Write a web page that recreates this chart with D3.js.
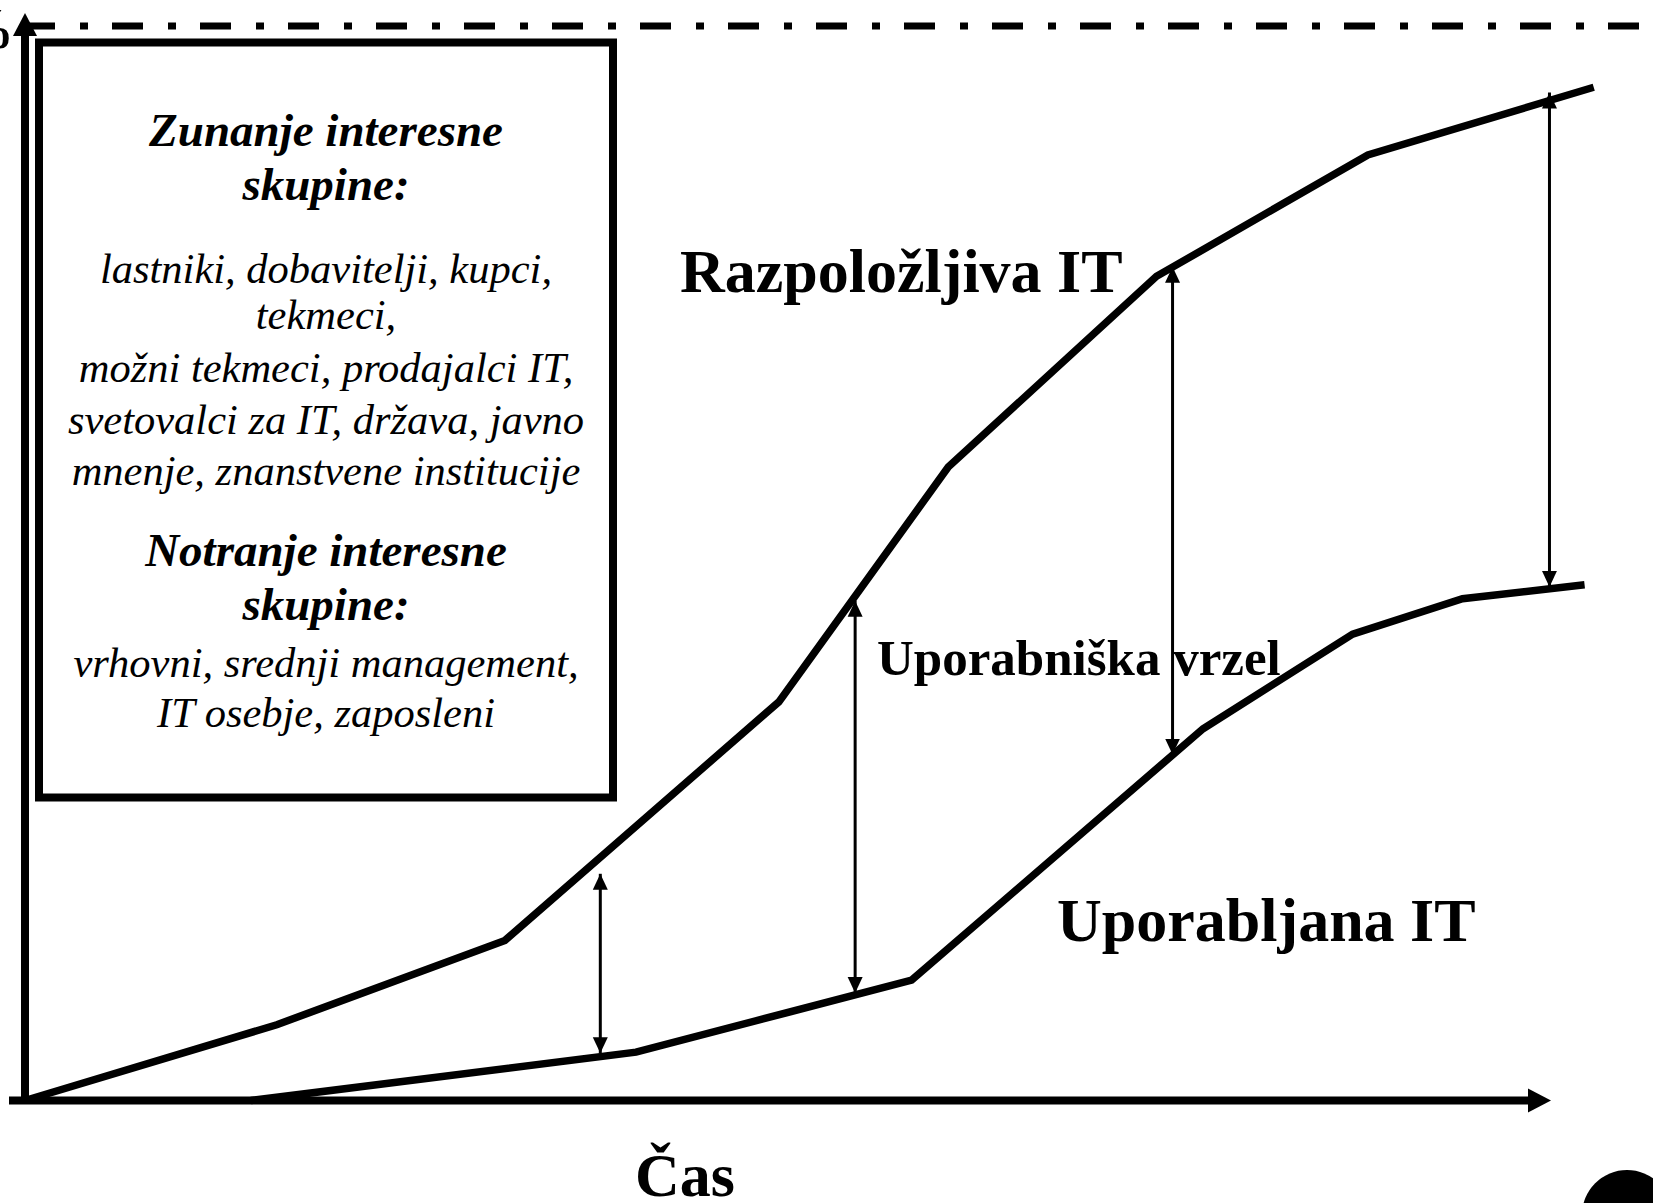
<!DOCTYPE html>
<html><head><meta charset="utf-8">
<script src="https://cdn.jsdelivr.net/npm/d3@7"></script>
<style>body{margin:0;background:#fff}svg{display:block}</style>
</head><body>
<script>
// ---- data (time units 0..100, percent 0..100) ----
const availableTime  = [0, 16.5, 31.45, 49.4, 60.5, 74.15, 88.0, 102.8];
const availableLevel = [0, 7.05, 14.9, 37.1, 58.95, 76.7, 88.0, 94.3];
const usedTime  = [14.8, 40.04, 58.1, 77.2, 87.0, 94.2, 102.2];
const usedLevel = [0, 4.5, 11.2, 34.6, 43.4, 46.7, 48.0];
const gapTime = [37.7, 54.4, 75.2, 99.9];
const gapLow  = [4.4, 10.0, 32.2, 47.8];
const gapHigh = [21.1, 46.5, 77.6, 93.8];
const maxLevel = 100;
const boxLines = [
  "Zunanje interesne", "skupine:",
  "lastniki, dobavitelji, kupci,", "tekmeci,", "možni tekmeci, prodajalci IT,",
  "svetovalci za IT, država, javno", "mnenje, znanstvene institucije",
  "Notranje interesne", "skupine:",
  "vrhovni, srednji management,", "IT osebje, zaposleni"
];
const boxLineKind = ["h","h","t","t","t","t","t","h","h","t","t"];
const labelAvailable = "Razpoložljiva IT";
const labelUsed = "Uporabljana IT";
const labelGap = "Uporabniška vrzel";
const labelX = "Čas";
const labelY = "%";

// ---- layout ----
const W = 1653, H = 1203;
const svg = d3.select("body").append("svg").attr("width", W).attr("height", H);
const x = d3.scaleLinear().domain([0, 100]).range([25, 1551]);
const y = d3.scaleLinear().domain([0, 100]).range([1100.5, 26]);
const serif = "'Liberation Serif','Times New Roman',serif";

// dash-dot 100% line
svg.append("line")
  .attr("x1", 24).attr("x2", W).attr("y1", y(maxLevel)).attr("y2", y(maxLevel))
  .attr("stroke", "#000").attr("stroke-width", 7)
  .attr("stroke-dasharray", "31,25,8,24");

// text box
svg.append("rect").attr("x", 39).attr("y", 42.5).attr("width", 574).attr("height", 755)
  .attr("fill", "#fff").attr("stroke", "#000").attr("stroke-width", 8);

const boxY = [145.5, 200, 282.5, 329, 381.6, 434, 485, 566, 620, 677, 727];
svg.append("g").selectAll("text").data(boxLines).join("text")
  .attr("x", 326).attr("y", (d, i) => boxY[i])
  .attr("text-anchor", "middle")
  .attr("font-family", serif)
  .attr("font-style", "italic")
  .attr("font-weight", (d, i) => boxLineKind[i] === "h" ? "bold" : "normal")
  .attr("font-size", (d, i) => boxLineKind[i] === "h" ? 47 : 42.5)
  .text(d => d);

// axes
svg.append("line").attr("x1", x(0)).attr("x2", x(0)).attr("y1", y(0) + 3.5).attr("y2", 34)
  .attr("stroke", "#000").attr("stroke-width", 8);
svg.append("path").attr("d", `M${x(0)},13 L${x(0) - 12},36 L${x(0) + 12},36 Z`).attr("fill", "#000");
svg.append("line").attr("x1", 9).attr("x2", 1530).attr("y1", y(0)).attr("y2", y(0))
  .attr("stroke", "#000").attr("stroke-width", 8);
svg.append("path").attr("d", `M${x(100)},${y(0)} L1528,${y(0) - 12} L1528,${y(0) + 12} Z`).attr("fill", "#000");

// curves
const line = d3.line().x(d => x(d[0])).y(d => y(d[1]));
const availablePts = availableTime.map((t, i) => [t, availableLevel[i]]);
const usedPts = usedTime.map((t, i) => [t, usedLevel[i]]);
[availablePts, usedPts].forEach(pts => {
  svg.append("path").attr("d", line(pts)).attr("fill", "none")
    .attr("stroke", "#000").attr("stroke-width", 7.5)
    .attr("stroke-linejoin", "miter").attr("stroke-linecap", "butt");
});

// gap arrows
const defs = svg.append("defs");
["s", "e"].forEach(k => {
  defs.append("marker").attr("id", "ah" + k)
    .attr("markerUnits", "userSpaceOnUse").attr("markerWidth", 16).attr("markerHeight", 16)
    .attr("viewBox", "0 0 16 16").attr("refX", 16).attr("refY", 8)
    .attr("orient", k === "s" ? "auto-start-reverse" : "auto")
    .append("path").attr("d", "M0,0.5 L16,8 L0,15.5 Z").attr("fill", "#000");
});
svg.append("g").selectAll("line").data(gapTime).join("line")
  .attr("x1", d => x(d)).attr("x2", d => x(d))
  .attr("y1", (d, i) => y(gapLow[i])).attr("y2", (d, i) => y(gapHigh[i]))
  .attr("stroke", "#000").attr("stroke-width", 3)
  .attr("marker-start", "url(#ahs)").attr("marker-end", "url(#ahe)");

// labels
svg.append("text").attr("x", 680).attr("y", 292).attr("font-family", serif)
  .attr("font-weight", "bold").attr("font-size", 62).text(labelAvailable);
svg.append("text").attr("x", 1057).attr("y", 941).attr("font-family", serif)
  .attr("font-weight", "bold").attr("font-size", 62).text(labelUsed);
svg.append("text").attr("x", 877).attr("y", 675).attr("font-family", serif)
  .attr("font-weight", "bold").attr("font-size", 51).text(labelGap);
svg.append("text").attr("x", 635).attr("y", 1196).attr("font-family", serif)
  .attr("font-weight", "bold").attr("font-size", 62).text(labelX);
svg.append("text").attr("x", 14).attr("y", 48).attr("text-anchor", "end").attr("font-family", serif)
  .attr("font-weight", "bold").attr("font-size", 56).text(labelY);

// page badge
svg.append("circle").attr("cx", 1627).attr("cy", 1215).attr("r", 45).attr("fill", "#000");
</script>
</body></html>
